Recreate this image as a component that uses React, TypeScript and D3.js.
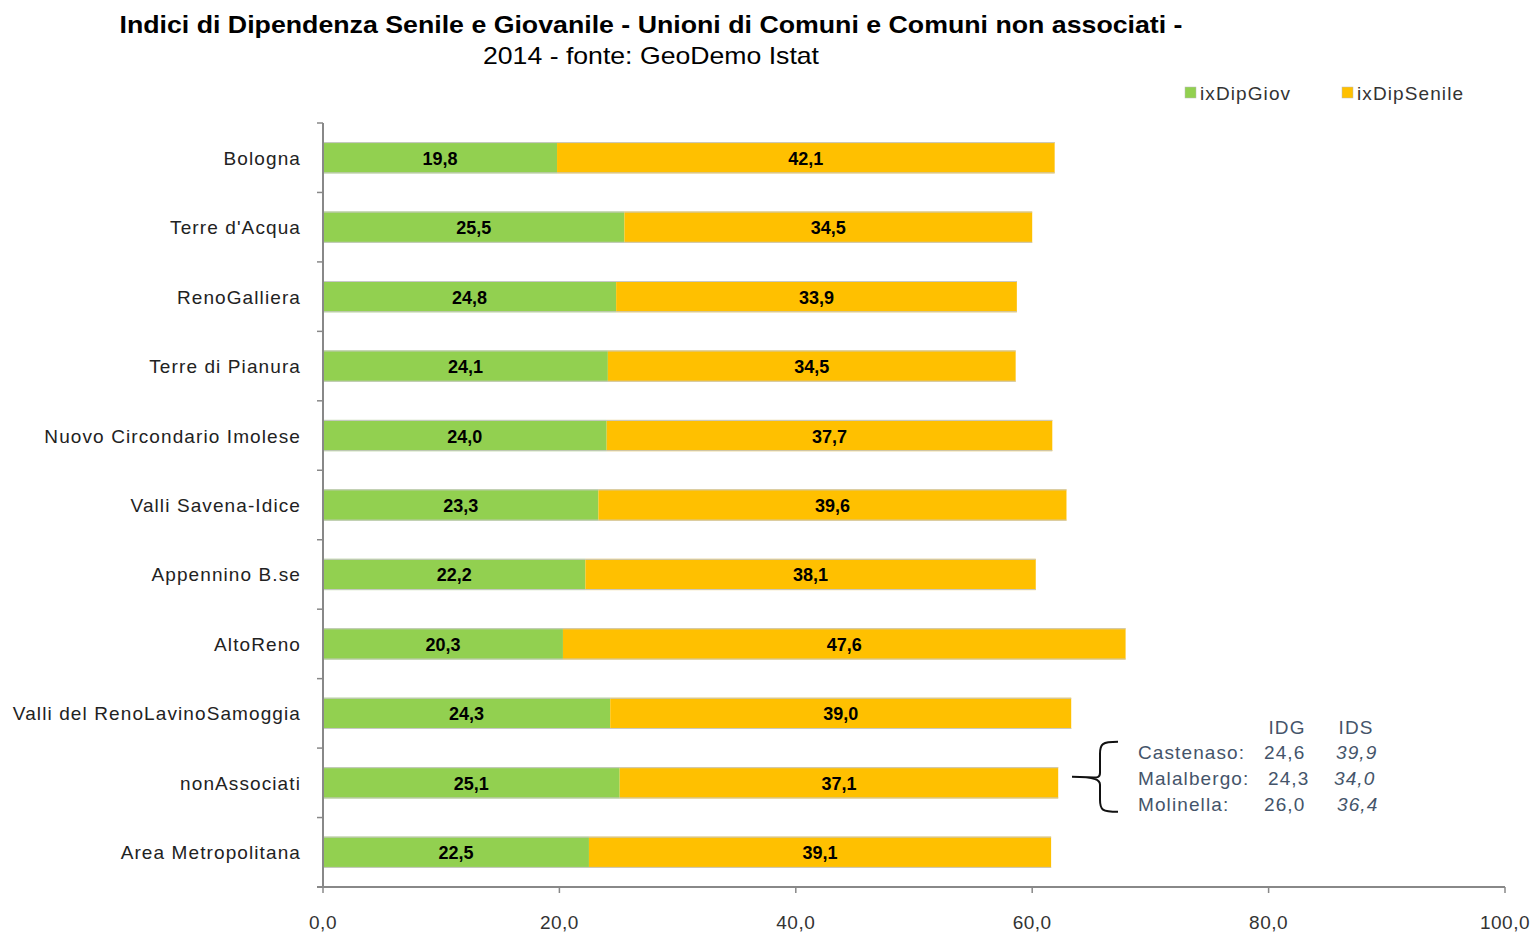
import React from "react";
import * as d3 from "d3";

const categories = [
  "Bologna",
  "Terre d'Acqua",
  "RenoGalliera",
  "Terre di Pianura",
  "Nuovo Circondario Imolese",
  "Valli Savena-Idice",
  "Appennino B.se",
  "AltoReno",
  "Valli del RenoLavinoSamoggia",
  "nonAssociati",
  "Area Metropolitana",
];
const ixDipGiov = [19.8, 25.5, 24.8, 24.1, 24.0, 23.3, 22.2, 20.3, 24.3, 25.1, 22.5];
const ixDipSenile = [42.1, 34.5, 33.9, 34.5, 37.7, 39.6, 38.1, 47.6, 39.0, 37.1, 39.1];
const seriesNames = ["ixDipGiov", "ixDipSenile"];
const seriesColors = ["#92D050", "#FFC000"];
const xTicks = [0, 20, 40, 60, 80, 100];

const noteHeader = ["IDG", "IDS"];
const noteNames = ["Castenaso:", "Malalbergo:", "Molinella:"];
const noteIDG = ["24,6", "24,3", "26,0"];
const noteIDS = ["39,9", "34,0", "36,4"];

const fmt = (v: number) => v.toFixed(1).replace(".", ",");

export default function App() {
  const W = 1535, H = 935;
  const left = 323, right = 1505, top = 123, bottom = 887;
  const x = d3.scaleLinear().domain([0, 100]).range([left, right]);
  const y = d3.scaleBand().domain(categories).range([top, bottom]).paddingInner(0.55).paddingOuter(0.275);
  const yTicks = d3.range(categories.length + 1).map((i) => top + (i * (bottom - top)) / categories.length);
  const stackData = categories.map((c, i) => ({ cat: c, ixDipGiov: ixDipGiov[i], ixDipSenile: ixDipSenile[i] }));
  const stack = d3.stack<any>().keys(seriesNames)(stackData);
  const font = "'Liberation Sans', Arial, sans-serif";

  const nc = y("nonAssociati")! + y.bandwidth() / 2;
  const braceX = 1092;
  const bt = nc - 41, bb = nc + 29;
  const bracePath = `M ${braceX + 26} ${bt} C ${braceX + 10} ${bt} ${braceX + 8} ${bt + 2} ${braceX + 8} ${bt + 12} L ${braceX + 8} ${nc - 10} C ${braceX + 8} ${nc - 3} ${braceX + 4} ${nc - 6} ${braceX - 20} ${nc - 6} M ${braceX - 20} ${nc - 6} C ${braceX + 4} ${nc - 6} ${braceX + 8} ${nc - 3} ${braceX + 8} ${nc + 2} L ${braceX + 8} ${bb - 12} C ${braceX + 8} ${bb - 2} ${braceX + 10} ${bb} ${braceX + 26} ${bb}`;

  return (
    <svg width={W} height={H} style={{ position: "absolute", left: 0, top: 0, background: "#fff" }} fontFamily={font}>
      <text x={651} y={33} textAnchor="middle" fontSize={24} fontWeight="bold" textLength={1063} lengthAdjust="spacingAndGlyphs">
        Indici di Dipendenza Senile e Giovanile - Unioni di Comuni e Comuni non associati -
      </text>
      <text x={651} y={64} textAnchor="middle" fontSize={24} textLength={336} lengthAdjust="spacingAndGlyphs">
        2014 - fonte: GeoDemo Istat
      </text>

      {seriesNames.map((s, i) => {
        const lx = [1185, 1342][i];
        return (
          <g key={s}>
            <rect x={lx} y={87} width={11} height={11} fill={seriesColors[i]} stroke="#bbb" strokeWidth={0.5} />
            <text x={lx + 15} y={100} fontSize={19} fill="#333" letterSpacing={1.1}>{s}</text>
          </g>
        );
      })}

      {stack.map((layer, si) => (
        <g key={si}>
          {layer.map((d, i) => (
            <g key={i}>
              <rect
                x={x(d[0])}
                y={y(categories[i])}
                width={x(d[1]) - x(d[0])}
                height={y.bandwidth()}
                fill={seriesColors[si]}
              />
              <text
                x={(x(d[0]) + x(d[1])) / 2}
                y={y(categories[i])! + y.bandwidth() / 2 + 7}
                textAnchor="middle"
                fontSize={18}
                fontWeight="bold"
                fill="#000"
              >
                {fmt(d[1] - d[0])}
              </text>
            </g>
          ))}
        </g>
      ))}
      {categories.map((c, i) => (
        <g key={c}>
          <line x1={left} x2={x(ixDipGiov[i] + ixDipSenile[i])} y1={y(c)! + 0.5} y2={y(c)! + 0.5} stroke="#c8c8c8" strokeWidth={1} />
          <line x1={left} x2={x(ixDipGiov[i] + ixDipSenile[i])} y1={y(c)! + y.bandwidth() - 0.5} y2={y(c)! + y.bandwidth() - 0.5} stroke="#c8c8c8" strokeWidth={1} />
          <text x={301} y={y(c)! + y.bandwidth() / 2 + 7} textAnchor="end" fontSize={19} fill="#222" letterSpacing={1.1}>{c}</text>
        </g>
      ))}

      <line x1={left} x2={left} y1={top} y2={bottom} stroke="#888" strokeWidth={2} />
      {yTicks.map((t, i) => (
        <line key={i} x1={left - 6} x2={left} y1={t} y2={t} stroke="#888" strokeWidth={1.5} />
      ))}
      <line x1={left - 6} x2={right} y1={bottom} y2={bottom} stroke="#888" strokeWidth={2} />
      {xTicks.map((t) => (
        <g key={t}>
          <line x1={x(t)} x2={x(t)} y1={bottom} y2={bottom + 6} stroke="#888" strokeWidth={1.5} />
          <text x={x(t)} y={929} textAnchor="middle" fontSize={19} fill="#333" letterSpacing={0.5}>{fmt(t)}</text>
        </g>
      ))}

      <path d={bracePath} fill="none" stroke="#111" strokeWidth={2} />
      <g fontSize={19} fill="#44546A" letterSpacing={1.1}>
        <text x={1287} y={734} textAnchor="middle">{noteHeader[0]}</text>
        <text x={1356} y={734} textAnchor="middle">{noteHeader[1]}</text>
        {noteNames.map((n, i) => (
          <g key={n}>
            <text x={1138} y={759 + i * 26}>{n}</text>
            <text x={[1264, 1268, 1264][i]} y={759 + i * 26}>{noteIDG[i]}</text>
            <text x={[1336, 1334, 1337][i]} y={759 + i * 26} fontStyle="italic">{noteIDS[i]}</text>
          </g>
        ))}
      </g>
    </svg>
  );
}
